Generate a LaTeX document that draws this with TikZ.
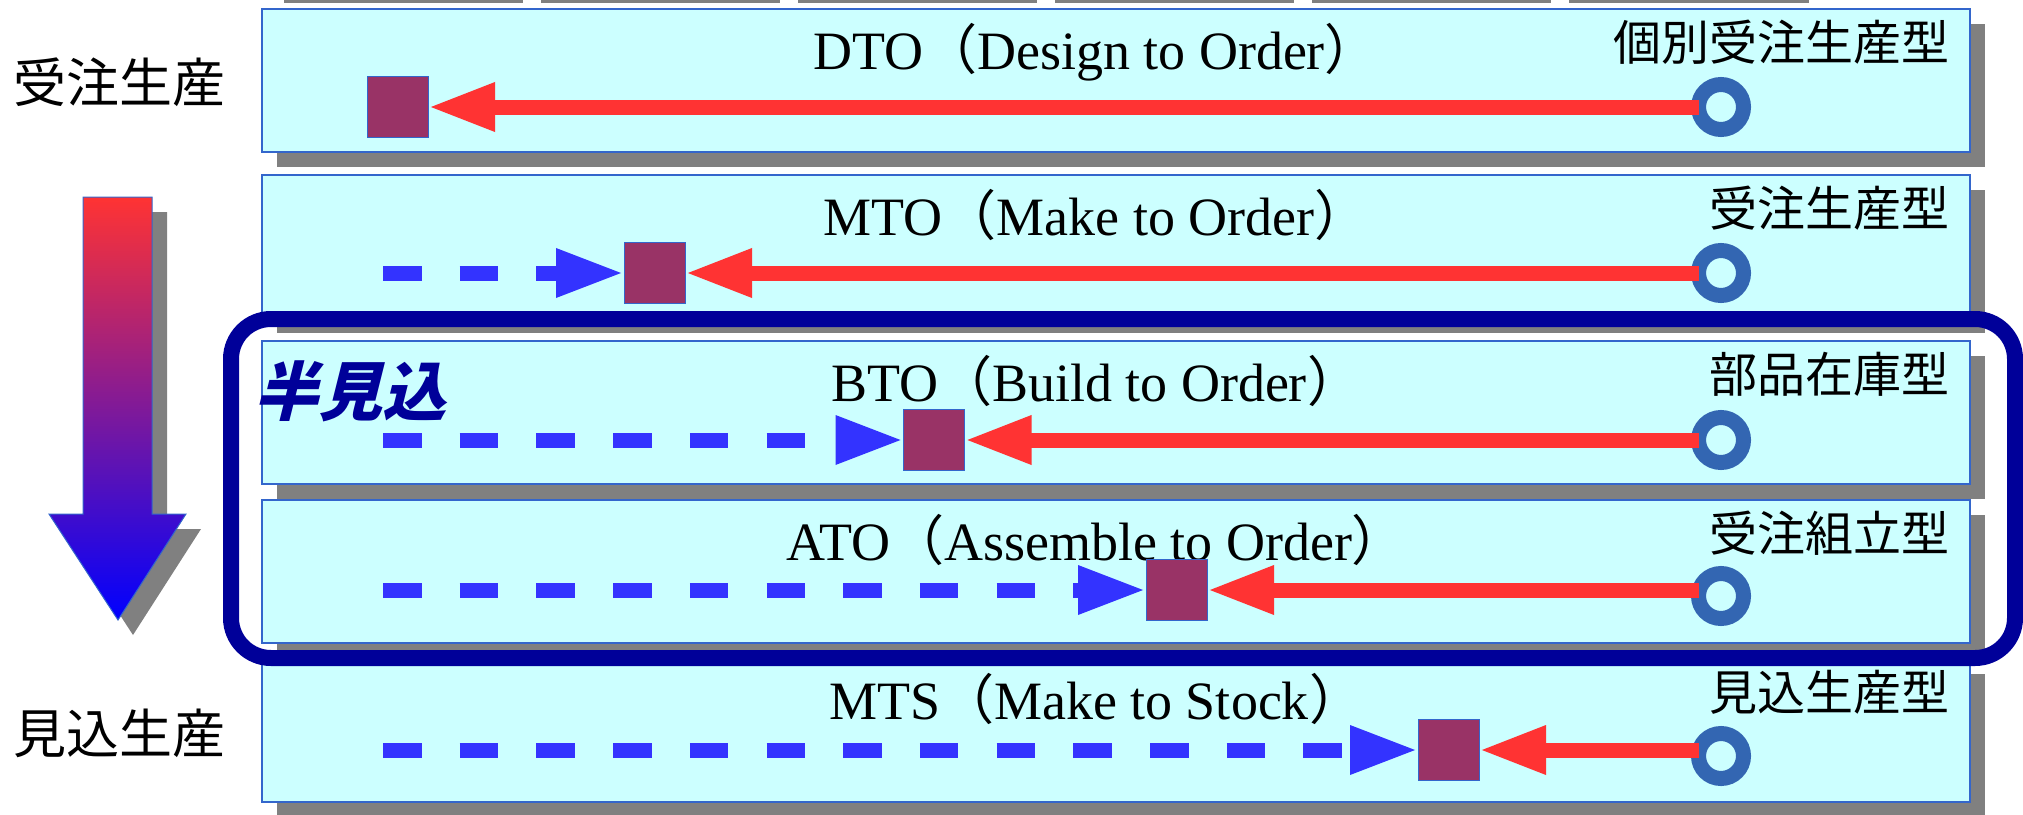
\documentclass[tikz,border=0pt]{standalone}
\usepackage{fontspec}
\setmainfont{Liberation Serif}
\newfontfamily\jp{Noto Sans CJK JP}
\newfontfamily\jpslant{Noto Sans CJK JP}[FakeSlant=0.25]
\usetikzlibrary{arrows.meta,shadows}
\definecolor{bandfill}{HTML}{CCFFFF}
\definecolor{bandline}{HTML}{3366CC}
\definecolor{shadowgray}{HTML}{808080}
\definecolor{redflow}{HTML}{FF3333}
\definecolor{blueflow}{HTML}{3333FF}
\definecolor{decfill}{HTML}{993366}
\definecolor{ringblue}{HTML}{3366B2}
\definecolor{navy}{HTML}{000099}

\begin{document}
\begin{tikzpicture}[x=1pt,y=-1pt,
  band/.style={draw=bandline, line width=1.2pt, fill=bandfill, minimum width=1708pt, minimum height=143pt, inner sep=0pt,
    drop shadow={shadow xshift=15pt, shadow yshift=-15pt, fill=shadowgray, opacity=1}},
  decouple/.style={draw=bandline, line width=1pt, fill=decfill, minimum size=61pt, inner sep=0pt, outer sep=0pt},
  orderpt/.style={circle, draw=ringblue, line width=15pt, fill=bandfill, minimum size=45pt, inner sep=0pt, outer sep=0pt},
  orderflow/.style={draw=redflow, line width=15pt, -{Triangle[length=67pt,width=45pt]}},
  forecastflow/.style={draw=blueflow, line width=15pt, dash pattern=on 38.5pt off 38.2pt, -{Triangle[length=68pt,width=45pt]}},
  title/.style={font=\fontsize{54}{62}\selectfont, anchor=base, inner sep=0pt},
  kind/.style={font=\jp\fontsize{48}{56}\selectfont, anchor=east, inner sep=0pt},
  side/.style={font=\jp\fontsize{53}{60}\selectfont, anchor=west, inner sep=0pt}]
\useasboundingbox (0,0) rectangle (2023,814);

% shadows of the boxes above
\fill[shadowgray] (284,0) rectangle (523,2.5);
\fill[shadowgray] (541,0) rectangle (780,2.5);
\fill[shadowgray] (798,0) rectangle (1037,2.5);
\fill[shadowgray] (1055,0) rectangle (1294,2.5);
\fill[shadowgray] (1312,0) rectangle (1551,2.5);
\fill[shadowgray] (1569,0) rectangle (1809,2.5);

% big arrow
\fill[shadowgray, xshift=15, yshift=-15] (83,197) -- (152,197) -- (152,514) -- (186,514) -- (118,620) -- (49,514) -- (83,514) -- cycle;
\shadedraw[top color=redflow, bottom color=blue, draw=bandline, line width=1pt] (83,197) -- (152,197) -- (152,514) -- (186,514) -- (118,620) -- (49,514) -- (83,514) -- cycle;

\node[side] (mto-side) at (13,82) {受注生産};
\node[side] (mts-side) at (13,733) {見込生産};

% bands
\node[band] (b1) at (1116,80.5) {};
\node[band] (b2) at (1116,246.5) {};
\node[band] (b3) at (1116,412.5) {};
\node[band] (b4) at (1116,571.5) {};
\node[band] (b5) at (1116,730.5) {};

\draw[navy, line width=16pt, rounded corners=40pt] (231,319) rectangle (2015,658);
\node[font=\jpslant\bfseries\fontsize{64}{70}\selectfont, text=navy, anchor=west, inner sep=0pt] (semi) at (254,391) {半見込};

\node[title] (t1) at (1096,69) {DTO{\jp（}Design to Order{\jp）}};
\node[title] (t2) at (1096,235) {MTO{\jp（}Make to Order{\jp）}};
\node[title] (t3) at (1096,401) {BTO{\jp（}Build to Order{\jp）}};
\node[title] (t4) at (1096,560) {ATO{\jp（}Assemble to Order{\jp）}};
\node[title] (t5) at (1096,719) {MTS{\jp（}Make to Stock{\jp）}};

\node[kind] (k1) at (1950,42) {個別受注生産型};
\node[kind] (k2) at (1950,208) {受注生産型};
\node[kind] (k3) at (1950,374) {部品在庫型};
\node[kind] (k4) at (1950,533) {受注組立型};
\node[kind] (k5) at (1950,692) {見込生産型};

\node[decouple] (s1) at (397.5,107) {};
\node[decouple] (s2) at (654.5,273) {};
\node[decouple] (s3) at (934,440) {};
\node[decouple] (s4) at (1176.5,590) {};
\node[decouple] (s5) at (1448.5,750) {};

\node[orderpt] (c1) at (1721,107) {};
\node[orderpt] (c2) at (1721,273) {};
\node[orderpt] (c3) at (1721,440) {};
\node[orderpt] (c4) at (1721,596) {};
\node[orderpt] (c5) at (1721,756) {};

\coordinate (d2) at (383,273);
\coordinate (d3) at (383,440);
\coordinate (d4) at (383,590);
\coordinate (d5) at (383,750);

\path[orderflow] (c1.west |- s1) -- (s1.east);
\path[orderflow] (c2.west |- s2) -- (s2.east);
\path[orderflow] (c3.west |- s3) -- (s3.east);
\path[orderflow] (c4.west |- s4) -- (s4.east);
\path[orderflow] (c5.west |- s5) -- (s5.east);

\path[forecastflow] (d2) -- (s2.west);
\path[forecastflow] (d3) -- (s3.west);
\path[forecastflow] (d4) -- (s4.west);
\path[forecastflow] (d5) -- (s5.west);
\end{tikzpicture}
\end{document}
